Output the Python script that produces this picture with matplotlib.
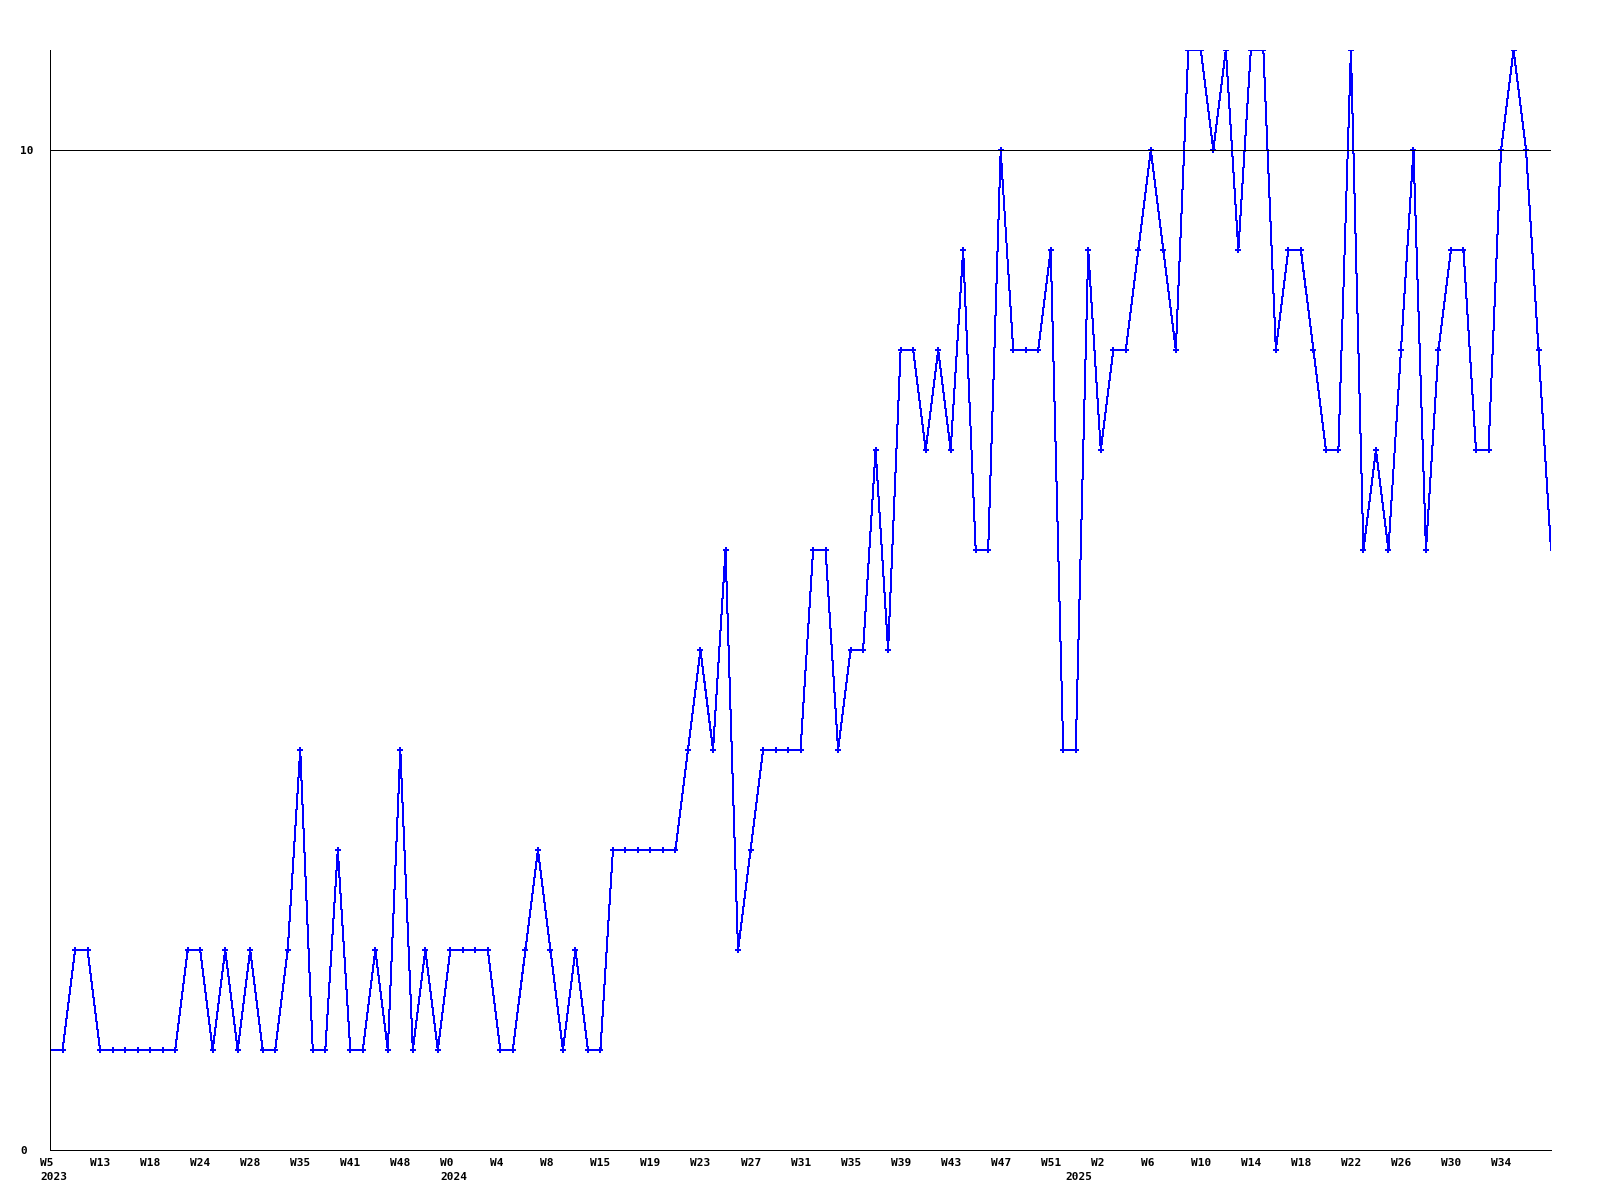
import matplotlib
matplotlib.use("Agg")
import matplotlib.pyplot as plt

# weekly counts, one point per sampled week
values = [1, 1, 2, 2, 1, 1, 1, 1, 1, 1,
          1, 2, 2, 1, 2, 1, 2, 1, 1, 2,
          4, 1, 1, 3, 1, 1, 2, 1, 4, 1,
          2, 1, 2, 2, 2, 2, 1, 1, 2, 3,
          2, 1, 2, 1, 1, 3, 3, 3, 3, 3,
          3, 4, 5, 4, 6, 2, 3, 4, 4, 4,
          4, 6, 6, 4, 5, 5, 7, 5, 8, 8,
          7, 8, 7, 9, 6, 6, 10, 8, 8, 8,
          9, 4, 4, 9, 7, 8, 8, 9, 10, 9,
          8, 11, 11, 10, 11, 9, 11, 11, 8, 9,
          9, 8, 7, 7, 11, 6, 7, 6, 8, 10,
          6, 8, 9, 9, 7, 7, 10, 11, 10, 8,
          6]

week_labels = ["W5", "W13", "W18", "W24", "W28", "W35", "W41", "W48",
               "W0", "W4", "W8", "W15", "W19", "W23", "W27", "W31",
               "W35", "W39", "W43", "W47", "W51", "W2", "W6", "W10",
               "W14", "W18", "W22", "W26", "W30", "W34"]
label_step = 4
year_labels = ["2023", "2024", "2025"]
year_index = [0, 32, 82]

FONT = {"family": "DejaVu Sans Mono", "weight": "bold", "size": 8}
PX = 0.72  # one pixel at 100 dpi

fig = plt.figure(figsize=(16, 12), dpi=100)
ax = fig.add_axes([0.0313, 0.0417, 0.9381, 0.9166])

x = list(range(len(values)))
ax.plot(x, values, color="#0000ff", lw=PX, antialiased=False)
ax.plot(x[:-1], values[:-1], ls="none", marker="P", ms=4.5,
        color="#0000ff", mew=0)

ax.set_xlim(0, len(values) - 1)
ax.set_ylim(0, 11)

ax.axhline(10, color="black", lw=PX, antialiased=False)

for side in ["top", "right"]:
    ax.spines[side].set_visible(False)
for side in ["left", "bottom"]:
    ax.spines[side].set_linewidth(PX)
    ax.spines[side].set_antialiased(False)

ax.set_yticks([0, 10])
ax.set_yticklabels(["0", "10"], fontdict=FONT, ha="left")
ax.tick_params(axis="y", length=0, pad=21.5)

tick_pos = [i * label_step for i in range(len(week_labels))]
ax.set_xticks(tick_pos)
ax.set_xticklabels(week_labels, fontdict=FONT, ha="left")
ax.tick_params(axis="x", length=0, pad=6)
shift = matplotlib.transforms.ScaledTranslation(-10 / 100, 0, fig.dpi_scale_trans)
for lbl in ax.get_xticklabels():
    lbl.set_transform(lbl.get_transform() + shift)

for idx, yr in zip(year_index, year_labels):
    ax.annotate(yr, xy=(idx, 0), xycoords=("data", "axes fraction"),
                xytext=(-10, -22), textcoords="offset pixels",
                ha="left", va="top", **FONT)

fig.savefig("out.png", dpi=100)
